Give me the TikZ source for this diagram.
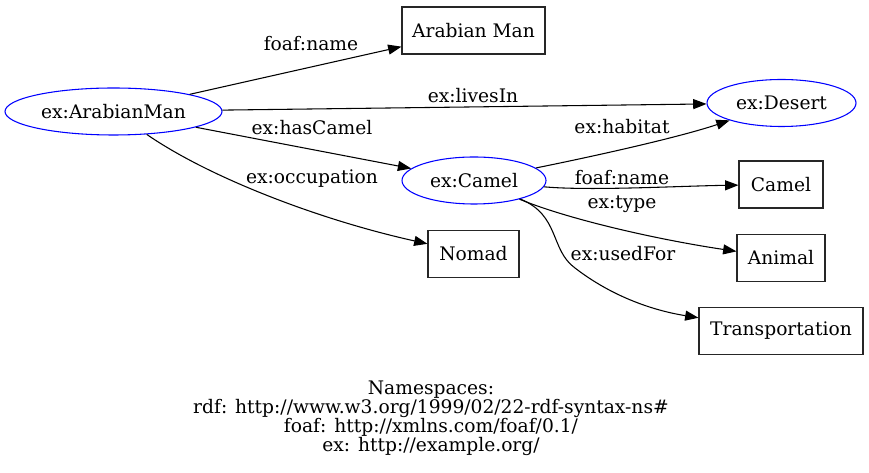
\documentclass[tikz,border=0pt]{standalone}
\usepackage{fontspec}
\setmainfont{DejaVu Serif}
\usepackage{tikz}
\usetikzlibrary{arrows.meta, shapes.geometric}
\definecolor{RDF_Blue}{HTML}{0000FF}

\begin{document}
\begin{tikzpicture}[x=0.75pt, y=-0.75pt,
  every node/.style={font=\fontsize{14}{14.25}\selectfont},
  res/.style={draw=RDF_Blue, ellipse, line width=0.8pt, inner sep=0pt,
    minimum height=35.25pt, minimum width=#1},
  lit/.style={draw=black!85, rectangle, line width=0.8pt, inner sep=0pt,
    minimum height=35.25pt, minimum width=#1},
  lbl/.style={inner sep=0pt},
  arr/.style={-{Triangle[length=10pt, width=7.5pt]}, line width=0.8pt, black}
]
  \useasboundingbox (0,0) rectangle (869,473);

  % Resources
  \node[res=162.75pt] (man) at (113.5,111.5) {ex:ArabianMan};
  \node[res=111.75pt] (desert) at (781.5,103) {ex:Desert};
  \node[res=108pt] (camel) at (474,180.5) {ex:Camel};

  % Literals
  \node[lit=107.25pt] (manname) at (473.5,30.5) {Arabian Man};
  \node[lit=68.25pt] (nomad) at (473.5,254) {Nomad};
  \node[lit=63pt] (camelname) at (781,184.5) {Camel};
  \node[lit=66pt] (animal) at (781,258) {Animal};
  \node[lit=123pt] (transport) at (781,331) {Transportation};

  % Edges from ex:ArabianMan
  \draw[arr] (man) -- (manname);
  \draw[arr] (man) -- (desert);
  \draw[arr] (man) -- (camel);
  \draw[arr] (man) .. controls (210,178) and (320,220) .. (nomad);

  % Edges from ex:Camel
  \draw[arr] (camel) .. controls (600,155) and (680,137) .. (desert);
  \draw[arr] (camel) .. controls (590,191) and (680,186) .. (camelname);
  \draw[arr] (camel) .. controls (570,220) and (660,240) .. (animal);
  \draw[arr] (camel) .. controls (560,215) and (550,250) .. (575,268)
    .. controls (610,295) and (650,310) .. (transport);

  % Edge labels
  \node[lbl] (l-mname) at (311,44) {foaf:name};
  \node[lbl] (l-lives) at (473,96) {ex:livesIn};
  \node[lbl] (l-has) at (312,128) {ex:hasCamel};
  \node[lbl] (l-occ) at (312,179) {ex:occupation};
  \node[lbl] (l-hab) at (622,127) {ex:habitat};
  \node[lbl] (l-cname) at (622,178) {foaf:name};
  \node[lbl] (l-type) at (622,204) {ex:type};
  \node[lbl] (l-used) at (623,254) {ex:usedFor};

  % Namespaces
  \node[lbl, align=center] (ns) at (431,418.5) {Namespaces:\\
    rdf: http://www.w3.org/1999/02/22-rdf-syntax-ns\#\\
    foaf: http://xmlns.com/foaf/0.1/\\
    ex: http://example.org/};
\end{tikzpicture}
\end{document}
